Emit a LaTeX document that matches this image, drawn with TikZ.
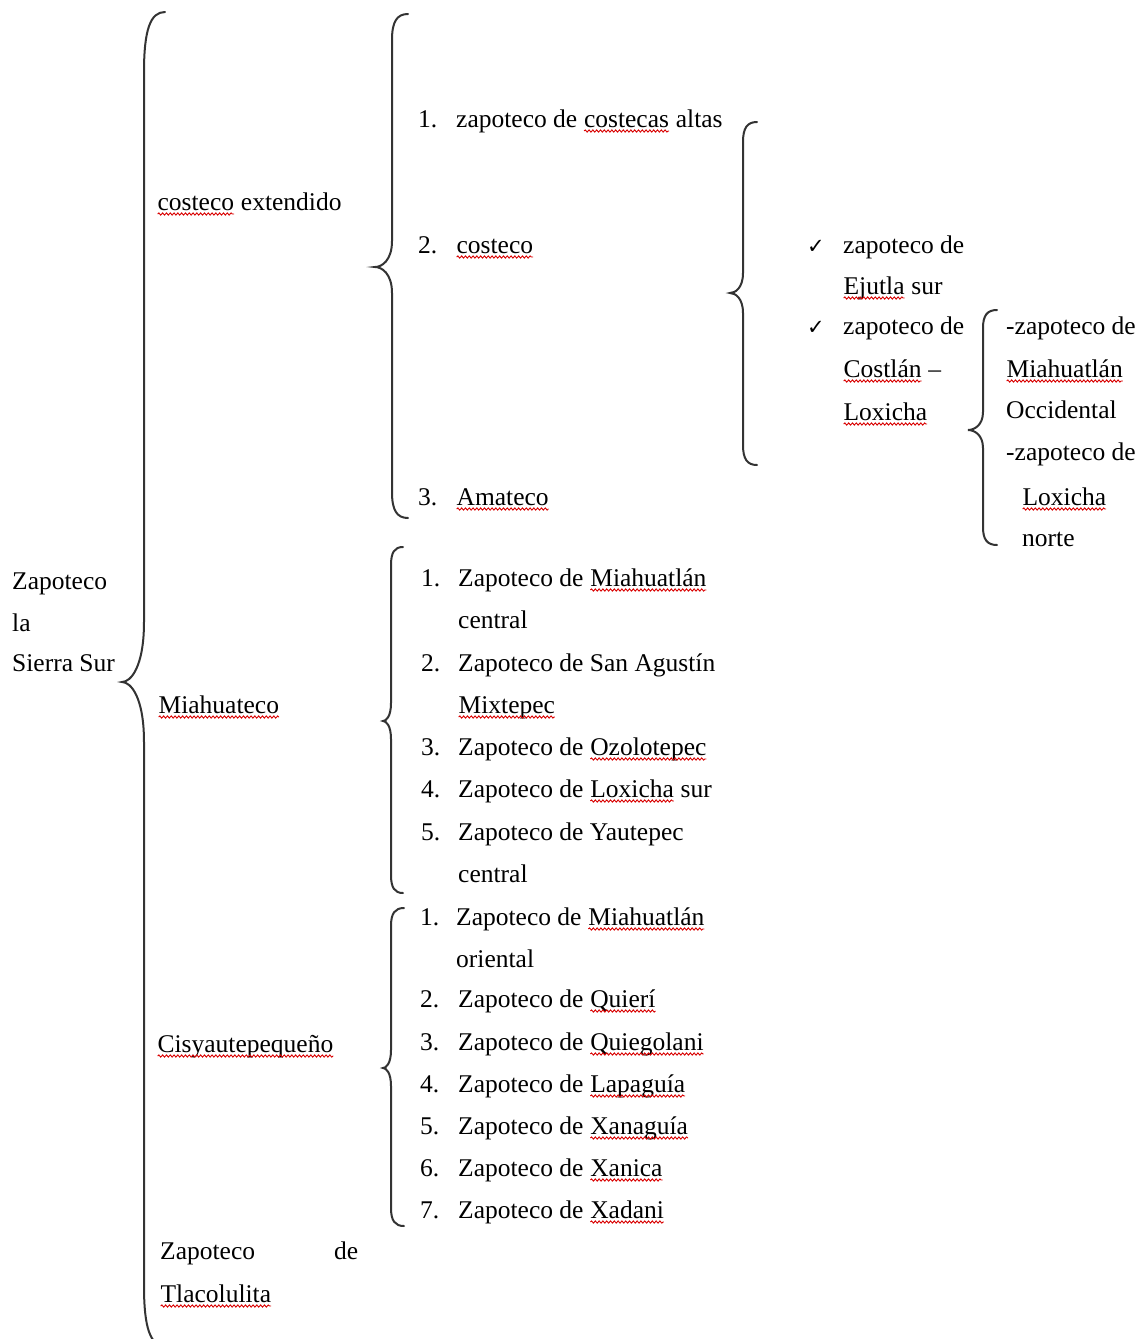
\documentclass[tikz,border=0pt]{standalone}
\usepackage{fontspec}
\setmainfont{Liberation Serif}
\newfontfamily\symfont{DejaVu Sans}
\usetikzlibrary{decorations.pathmorphing}
\newcommand\sq[1]{\tikz[baseline=(w.base),x=1cm,y=1cm]{\node[inner sep=0pt,outer sep=0pt,anchor=base] (w) {#1};
  \draw[red!85!black, line width=0.9pt, decorate, decoration={snake, amplitude=1.1pt, segment length=3.8pt}]
   ([yshift=-4pt]w.base west) -- ([yshift=-4pt]w.base east);}}
\newcommand\chk{{\symfont\fontsize{21}{24}\selectfont ✓}}
\tikzset{
  txt/.style={anchor=base west, inner sep=0pt, font=\fontsize{25.5}{30}\selectfont},
  bracestyle/.style={line width=2pt, black!80, line cap=round}
}
\newcommand\wbrace[7]{%
 \draw[bracestyle] (#2,#4) .. controls ({#1+0.3*(#2-#1)},#4) and (#1,{#4+0.3*#7}) .. (#1,{#4+#7})
   -- (#1,{#5-#7}) .. controls (#1,{#5-0.25*#7}) and ({#3+0.4*(#1-#3)},#5) .. (#3,#5)
   .. controls ({#3+0.4*(#1-#3)},#5) and (#1,{#5+0.25*#7}) .. (#1,{#5+#7})
   -- (#1,{#6-#7}) .. controls (#1,{#6-0.3*#7}) and ({#1+0.3*(#2-#1)},#6) .. (#2,#6);}
\begin{document}
\begin{tikzpicture}[x=1pt,y=-1pt]
\useasboundingbox (0,0) rectangle (1141,1339);
\fill[white] (0,0) rectangle (1141,1339);
% braces
\wbrace{144}{165}{122}{12}{682}{1346}{60}
\wbrace{392}{408}{375}{14}{267}{518}{26}
\wbrace{743}{757}{730}{122}{293}{465}{20}
\wbrace{983}{997}{968}{310}{430}{545}{18}
\wbrace{391}{403}{383}{547}{721}{893}{18}
\wbrace{391}{404}{383}{908}{1068}{1226}{18}
% level 1
\node[txt] (r1) at (12,589) {Zapoteco};
\node[txt] (r2) at (12,631) {la};
\node[txt] (r3) at (12,671) {Sierra Sur};
% level 2
\node[txt] (g1) at (157,210) {\sq{costeco} extendido};
\node[txt] (g2) at (158,713) {\sq{Miahuateco}};
\node[txt] (g3) at (157,1052) {\sq{Cisyautepequeño}};
\node[txt] (g4) at (160,1259) {\makebox[198pt][s]{Zapoteco de}};
\node[txt] (g4b) at (160,1302) {\sq{Tlacolulita}};
% costeco extendido
\node[txt] (a1n) at (418,127) {1.};
\node[txt] (a1) at (456,127) {zapoteco de \sq{costecas} altas};
\node[txt] (a2n) at (418,253) {2.};
\node[txt] (a2) at (456,253) {\sq{costeco}};
\node[txt] (a3n) at (418,505) {3.};
\node[txt] (a3) at (456,505) {\sq{Amateco}};
% check items
\node[txt] (c1n) at (807,253) {\chk};
\node[txt] (c1) at (843,253) {zapoteco de};
\node[txt] (c1b) at (843,294) {\sq{Ejutla} sur};
\node[txt] (c2n) at (807,334) {\chk};
\node[txt] (c2) at (843,334) {zapoteco de};
\node[txt] (c2b) at (843,377) {\sq{Costlán} –};
\node[txt] (c2c) at (843,420) {\sq{Loxicha}};
% right column
\node[txt] (d1) at (1006,334) {-zapoteco de};
\node[txt] (d1b) at (1006,377) {\sq{Miahuatlán}};
\node[txt] (d1c) at (1006,418) {Occidental};
\node[txt] (d2) at (1006,460) {-zapoteco de};
\node[txt] (d2b) at (1022,505) {\sq{Loxicha}};
\node[txt] (d2c) at (1022,546) {norte};
% Miahuateco
\node[txt] (m1n) at (421,586) {1.};
\node[txt] (m1) at (458,586) {Zapoteco de \sq{Miahuatlán}};
\node[txt] (m1b) at (458,628) {central};
\node[txt] (m2n) at (421,671) {2.};
\node[txt] (m2) at (458,671) {Zapoteco de San Agustín};
\node[txt] (m2b) at (458,713) {\sq{Mixtepec}};
\node[txt] (m3n) at (421,755) {3.};
\node[txt] (m3) at (458,755) {Zapoteco de \sq{Ozolotepec}};
\node[txt] (m4n) at (421,797) {4.};
\node[txt] (m4) at (458,797) {Zapoteco de \sq{Loxicha} sur};
\node[txt] (m5n) at (421,840) {5.};
\node[txt] (m5) at (458,840) {Zapoteco de Yautepec};
\node[txt] (m5b) at (458,882) {central};
% Cisyautepequeño
\node[txt] (s1n) at (420,925) {1.};
\node[txt] (s1) at (456,925) {Zapoteco de \sq{Miahuatlán}};
\node[txt] (s1b) at (456,967) {oriental};
\node[txt] (s2n) at (420,1007) {2.};
\node[txt] (s2) at (458,1007) {Zapoteco de \sq{Quierí}};
\node[txt] (s3n) at (420,1050) {3.};
\node[txt] (s3) at (458,1050) {Zapoteco de \sq{Quiegolani}};
\node[txt] (s4n) at (420,1092) {4.};
\node[txt] (s4) at (458,1092) {Zapoteco de \sq{Lapaguía}};
\node[txt] (s5n) at (420,1134) {5.};
\node[txt] (s5) at (458,1134) {Zapoteco de \sq{Xanaguía}};
\node[txt] (s6n) at (420,1176) {6.};
\node[txt] (s6) at (458,1176) {Zapoteco de \sq{Xanica}};
\node[txt] (s7n) at (420,1218) {7.};
\node[txt] (s7) at (458,1218) {Zapoteco de \sq{Xadani}};
\end{tikzpicture}
\end{document}
